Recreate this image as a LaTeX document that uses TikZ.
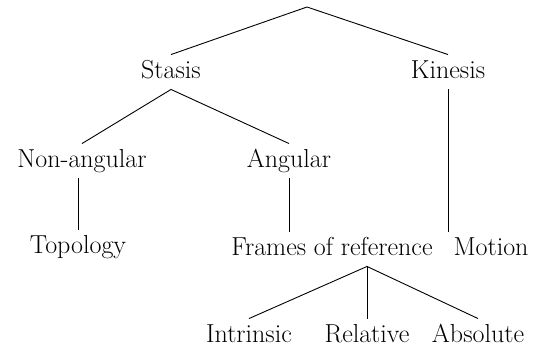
\documentclass[tikz,border=0pt]{standalone}
\usepackage{tikz}

\begin{document}
\begin{tikzpicture}[x=1pt, y=-1pt, line width=0.9pt,
    every node/.style={font=\fontsize{26}{30}\selectfont, anchor=base,
        text height=18pt, text depth=6pt, inner sep=5pt}]  % y runs downwards, 1pt per pixel
    \useasboundingbox (0,0) rectangle (534,348);

    % Draw the labels of the tree, row by row
    \coordinate (root) at (307,7);
    \node (stasis) at (171,78) {Stasis};
    \node (kinesis) at (448,78) {Kinesis};
    \node (nonangular) at (82,167) {Non-angular};
    \node (angular) at (289,167) {Angular};
    \node (topology) at (78,253) {Topology};
    \node (frames) at (332,255) {Frames of reference};
    \node (motion) at (491,255) {Motion};
    \node (intrinsic) at (249,342) {Intrinsic};
    \node (relative) at (367,342) {Relative};
    \node (absolute) at (478,342) {Absolute};

    % Draw the branches
    \draw (stasis.north) -- (root) -- (kinesis.north);
    \draw (nonangular.north) -- (stasis.south) -- (angular.north);
    \draw (topology.north) -- (topology.north |- nonangular.south);
    \draw (angular.south) -- (angular.south |- frames.north);
    \draw (kinesis.south) -- (kinesis.south |- motion.north);

    % Draw the three kinds of frames
    \coordinate (fork) at (relative.north |- frames.south);
    \draw (intrinsic.north) -- (fork) -- (absolute.north);
    \draw (fork) -- (relative.north);

\end{tikzpicture}
\end{document}
